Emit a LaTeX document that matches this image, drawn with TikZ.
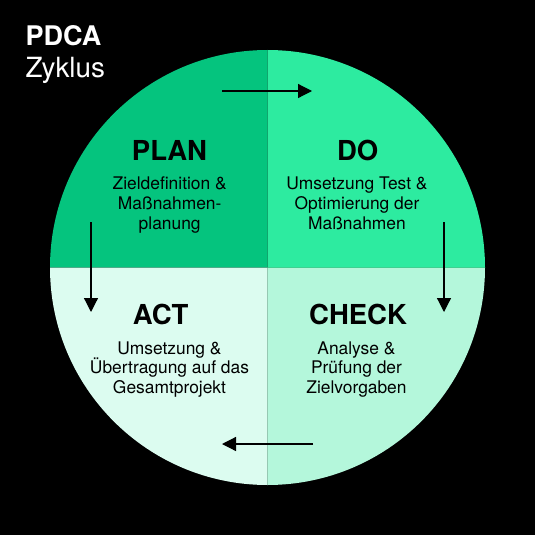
\documentclass[tikz,border=0pt]{standalone}
\usepackage{fontspec}
\setmainfont{TeX Gyre Heros}
\usetikzlibrary{arrows.meta}
\definecolor{qplan}{HTML}{05C47E}
\definecolor{qdo}{HTML}{2DEBA0}
\definecolor{qact}{HTML}{DCFCF0}
\definecolor{qcheck}{HTML}{B4F7DB}
\definecolor{sepA}{HTML}{96C8B2}
\definecolor{sepB}{HTML}{3FD090}
\tikzset{
  x=1pt,y=1pt,
  title/.style={font=\fontsize{27.5}{30}\selectfont\bfseries, anchor=base, inner sep=0pt, text=black},
  body/.style={font=\fontsize{17.4}{19.6}\selectfont, align=center, anchor=base, inner sep=0pt, text=black},
  flow/.style={line width=1.2pt, -{Triangle[length=14pt,width=14pt]}},
}
\begin{document}
\begin{tikzpicture}
\fill[black] (0,0) rectangle (535,-535);
\useasboundingbox (0,0) rectangle (535,-535);
\coordinate (c) at (267.5,-267.5);
% quadrants
\fill[qplan] (c) -- (50,-267.5) arc[start angle=180,end angle=90,radius=217.5] -- cycle;
\fill[qdo] (c) -- (267.5,-50) arc[start angle=90,end angle=0,radius=217.5] -- cycle;
\fill[qcheck] (c) -- (485,-267.5) arc[start angle=0,end angle=-90,radius=217.5] -- cycle;
\fill[qact] (c) -- (267.5,-485) arc[start angle=270,end angle=180,radius=217.5] -- cycle;
\draw[sepA, line width=0.8pt] (c) -- (267.5,-485);
\draw[sepB, line width=0.8pt] (c) -- (485,-267.5);
% heading
\node[font=\fontsize{27}{30}\selectfont\bfseries, text=white, anchor=base west, inner sep=0pt] (hd1) at (25.5,-45.7) {PDCA};
\node[font=\fontsize{27.8}{30}\selectfont, text=white, anchor=base west, inner sep=0pt] (hd2) at (25.5,-77.3) {Zyklus};
% titles
\node[title] (plan) at (169.5,-160) {PLAN};
\node[title] (do) at (357.7,-160) {DO};
\node[title] (act) at (160.7,-324.5) {ACT};
\node[title] (check) at (358,-324.5) {CHECK};
% bodies (anchor = baseline of last line)
\node[body] (planb) at (169.7,-229) {Zieldefinition \&\\Maßnahmen-\\planung};
\node[body] (dob) at (357,-229) {Umsetzung Test \&\\Optimierung der\\Maßnahmen};
\node[body] (actb) at (169.5,-393.3) {Umsetzung \&\\Übertragung auf das\\Gesamtprojekt};
\node[body] (checkb) at (356.5,-393.3) {Analyse \&\\Prüfung der\\Zielvorgaben};
% arrows
\coordinate (a1s) at (222,-91); \coordinate (a1e) at (312,-91);
\coordinate (a2s) at (444,-222); \coordinate (a2e) at (444,-312);
\coordinate (a3s) at (313,-444); \coordinate (a3e) at (222,-444);
\coordinate (a4s) at (91,-222); \coordinate (a4e) at (91,-312);
\draw[flow] (a1s) -- (a1e);
\draw[flow] (a2s) -- (a2e);
\draw[flow] (a3s) -- (a3e);
\draw[flow] (a4s) -- (a4e);
\end{tikzpicture}
\end{document}
